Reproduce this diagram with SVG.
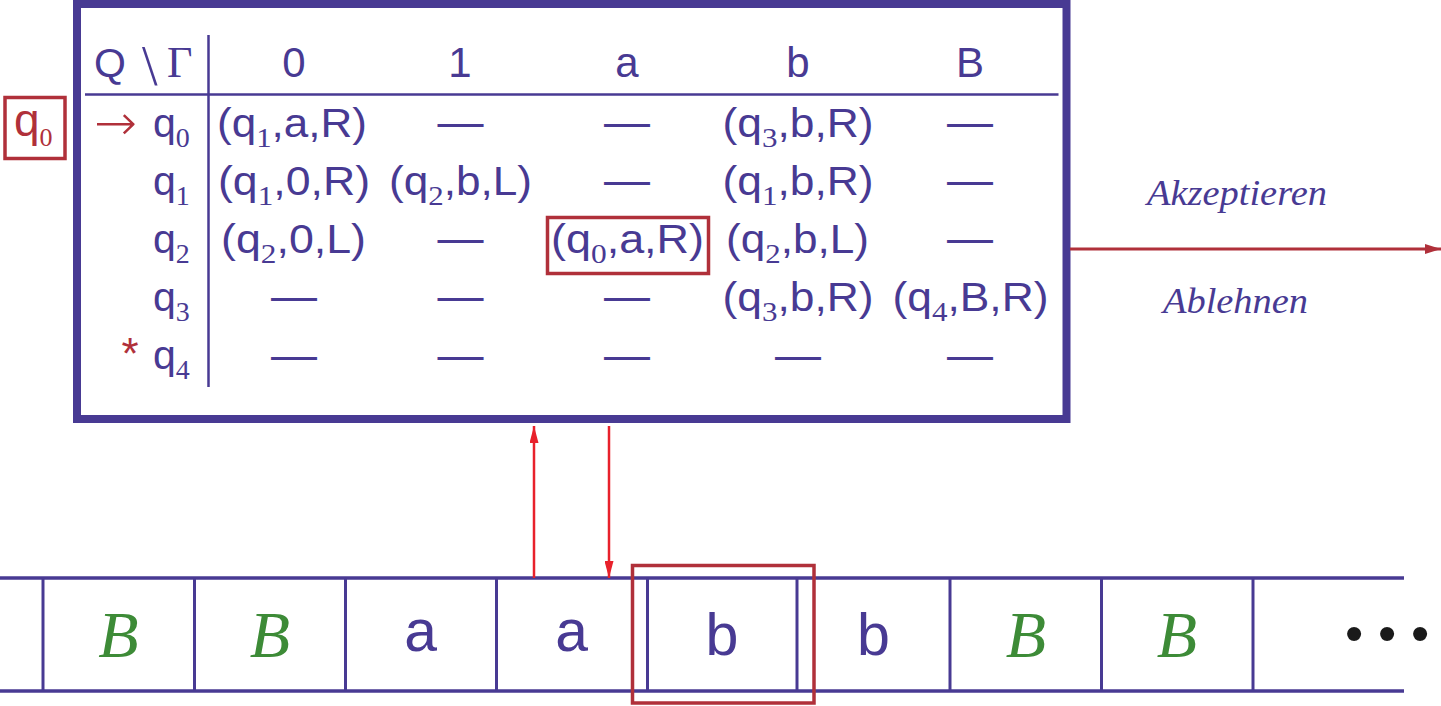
<svg xmlns="http://www.w3.org/2000/svg" width="1441" height="706" viewBox="0 0 1441 706">
<style>
.pu{fill:#483a93}
.sans{font-family:"Liberation Sans",Arial,sans-serif}
.c{font-family:"Liberation Sans",Arial,sans-serif;font-size:40px;fill:#483a93;text-anchor:middle}
.s{font-family:"Liberation Serif","Times New Roman",serif;font-size:28px}
.hd{font-family:"Liberation Sans",Arial,sans-serif;font-size:42px;fill:#483a93;text-anchor:middle}
.dash{font-family:"Liberation Sans",Arial,sans-serif;font-size:46px;fill:#483a93;text-anchor:middle}
.lbl{font-family:"Liberation Sans",Arial,sans-serif;font-size:41px;fill:#483a93}
.ital{font-family:"Liberation Serif","Times New Roman",serif;font-style:italic;font-size:35px;fill:#483a93}
.tB{font-family:"Liberation Serif","Times New Roman",serif;font-style:italic;font-size:66px;fill:#3d8b37;text-anchor:middle}
.tm{font-family:"Liberation Mono","Courier New",monospace;font-size:60px;fill:#483a93;text-anchor:middle}
.cell{fill:none;stroke:#483a93;stroke-width:3}
.redbox{fill:none;stroke:#b0303a;stroke-width:3.5}
.tl{stroke:#483a93;stroke-width:2.5;fill:none}
</style>
<defs>
<marker id="ahR" markerWidth="17" markerHeight="9" refX="17" refY="4.5" orient="auto" markerUnits="userSpaceOnUse"><path d="M0,0 L17,4.5 L0,9 Z" fill="#e8212b"/></marker>
<marker id="ahD" markerWidth="16" markerHeight="10" refX="16" refY="5" orient="auto" markerUnits="userSpaceOnUse"><path d="M0,0 L16,5 L0,10 Z" fill="#b0303a"/></marker>
</defs>

<g id="state-q0">
<rect class="redbox" x="5" y="97.5" width="60" height="61"/>
<text x="14" y="136" font-family="Liberation Sans, Arial, sans-serif" font-size="46" fill="#b0303a">q<tspan font-family="Liberation Serif, Times New Roman, serif" font-size="26" dy="10">0</tspan></text>
</g>

<g id="control-table">
<rect x="77" y="4" width="989.5" height="415" fill="#ffffff" stroke="#483a93" stroke-width="8"/>
<line class="tl" x1="208.5" y1="35" x2="208.5" y2="387"/>
<line class="tl" x1="85" y1="94.5" x2="1058.5" y2="94.5"/>
<!-- header -->
<text class="lbl" x="94" y="77" font-size="43">Q</text>
<text x="142" y="85" font-family="Liberation Serif, Times New Roman, serif" font-size="56" fill="#483a93">\</text>
<text x="167" y="77" font-family="Liberation Serif, Times New Roman, serif" font-size="44" fill="#483a93">Γ</text>
<text class="hd" x="294" y="77">0</text>
<text class="hd" x="460" y="77">1</text>
<text class="hd" x="627" y="77">a</text>
<text class="hd" x="798" y="77">b</text>
<text class="hd" x="970" y="77">B</text>
<!-- row labels -->
<text x="94" y="140" font-family="DejaVu Sans, Liberation Serif, sans-serif" font-weight="200" font-size="50" fill="#b0303a" textLength="43" lengthAdjust="spacingAndGlyphs">→</text>
<text class="lbl" x="153" y="137">q<tspan class="s" dy="10">0</tspan></text>
<text class="lbl" x="153" y="195">q<tspan class="s" dy="10">1</tspan></text>
<text class="lbl" x="153" y="253">q<tspan class="s" dy="10">2</tspan></text>
<text class="lbl" x="153" y="311">q<tspan class="s" dy="10">3</tspan></text>
<text x="130" y="369" text-anchor="middle" font-family="Liberation Sans, Arial, sans-serif" font-size="44" fill="#b0303a">*</text>
<text class="lbl" x="153" y="369">q<tspan class="s" dy="10">4</tspan></text>
<!-- row 0 -->
<text class="c" x="292" y="137" textLength="150" lengthAdjust="spacingAndGlyphs">(q<tspan class="s" dy="10">1</tspan><tspan dy="-10">,a,R)</tspan></text>
<text class="dash" x="460.5" y="137">—</text>
<text class="dash" x="627" y="137">—</text>
<text class="c" x="798" y="137" textLength="151" lengthAdjust="spacingAndGlyphs">(q<tspan class="s" dy="10">3</tspan><tspan dy="-10">,b,R)</tspan></text>
<text class="dash" x="970" y="137">—</text>
<!-- row 1 -->
<text class="c" x="294" y="195" textLength="152" lengthAdjust="spacingAndGlyphs">(q<tspan class="s" dy="10">1</tspan><tspan dy="-10">,0,R)</tspan></text>
<text class="c" x="460.5" y="195" textLength="143" lengthAdjust="spacingAndGlyphs">(q<tspan class="s" dy="10">2</tspan><tspan dy="-10">,b,L)</tspan></text>
<text class="dash" x="627" y="195">—</text>
<text class="c" x="798" y="195" textLength="151" lengthAdjust="spacingAndGlyphs">(q<tspan class="s" dy="10">1</tspan><tspan dy="-10">,b,R)</tspan></text>
<text class="dash" x="970" y="195">—</text>
<!-- row 2 -->
<text class="c" x="293.5" y="253" textLength="145" lengthAdjust="spacingAndGlyphs">(q<tspan class="s" dy="10">2</tspan><tspan dy="-10">,0,L)</tspan></text>
<text class="dash" x="460.5" y="253">—</text>
<text class="c" x="627.5" y="253" textLength="153" lengthAdjust="spacingAndGlyphs">(q<tspan class="s" dy="10">0</tspan><tspan dy="-10">,a,R)</tspan></text>
<text class="c" x="797.5" y="253" textLength="143" lengthAdjust="spacingAndGlyphs">(q<tspan class="s" dy="10">2</tspan><tspan dy="-10">,b,L)</tspan></text>
<text class="dash" x="970" y="253">—</text>
<!-- row 3 -->
<text class="dash" x="294" y="311">—</text>
<text class="dash" x="460.5" y="311">—</text>
<text class="dash" x="627" y="311">—</text>
<text class="c" x="798" y="311" textLength="151" lengthAdjust="spacingAndGlyphs">(q<tspan class="s" dy="10">3</tspan><tspan dy="-10">,b,R)</tspan></text>
<text class="c" x="970.5" y="311" textLength="156" lengthAdjust="spacingAndGlyphs">(q<tspan class="s" dy="10">4</tspan><tspan dy="-10">,B,R)</tspan></text>
<!-- row 4 -->
<text class="dash" x="294" y="370">—</text>
<text class="dash" x="460.5" y="370">—</text>
<text class="dash" x="627" y="370">—</text>
<text class="dash" x="798" y="370">—</text>
<text class="dash" x="970" y="370">—</text>
<!-- current transition highlight -->
<rect class="redbox" x="547.5" y="217.5" width="161" height="56"/>
</g>

<g id="output-labels">
<text class="ital" x="1147" y="205" textLength="180" lengthAdjust="spacingAndGlyphs">Akzeptieren</text>
<text class="ital" x="1163" y="313" textLength="145" lengthAdjust="spacingAndGlyphs">Ablehnen</text>
</g>

<g id="tape">
<line x1="0" y1="578" x2="1404" y2="578" stroke="#483a93" stroke-width="3.5"/>
<line x1="0" y1="691" x2="1404" y2="691" stroke="#483a93" stroke-width="3.5"/>
<g class="cell">
<line x1="43" y1="578" x2="43" y2="691"/>
<line x1="194.5" y1="578" x2="194.5" y2="691"/>
<line x1="345.5" y1="578" x2="345.5" y2="691"/>
<line x1="496.5" y1="578" x2="496.5" y2="691"/>
<line x1="647.5" y1="578" x2="647.5" y2="691"/>
<line x1="797" y1="578" x2="797" y2="691"/>
<line x1="950" y1="578" x2="950" y2="691"/>
<line x1="1101.5" y1="578" x2="1101.5" y2="691"/>
<line x1="1253" y1="578" x2="1253" y2="691"/>
</g>
<text class="tB" x="118.5" y="657">B</text>
<text class="tB" x="270" y="657">B</text>
<text class="tm" x="421" y="651">a</text>
<text class="tm" x="572" y="651">a</text>
<text class="tm" x="722" y="655">b</text>
<text class="tm" x="873.5" y="655">b</text>
<text class="tB" x="1026" y="657">B</text>
<text class="tB" x="1177" y="657">B</text>
<text x="1354 1387 1420" y="651" text-anchor="middle" font-family="Liberation Sans, Arial, sans-serif" font-size="52" fill="#1a1a1a">•••</text>
</g>

<g id="head">
<rect class="redbox" x="632.5" y="565.5" width="181.5" height="137.5"/>
</g>

<g id="connectors">
<line x1="534" y1="578" x2="534" y2="426" stroke="#e8212b" stroke-width="2.5" marker-end="url(#ahR)"/>
<line x1="609" y1="426" x2="609" y2="578" stroke="#e8212b" stroke-width="2.5" marker-end="url(#ahR)"/>
<line x1="1070" y1="249" x2="1441" y2="249" stroke="#b0303a" stroke-width="3" marker-end="url(#ahD)"/>
</g>
</svg>
